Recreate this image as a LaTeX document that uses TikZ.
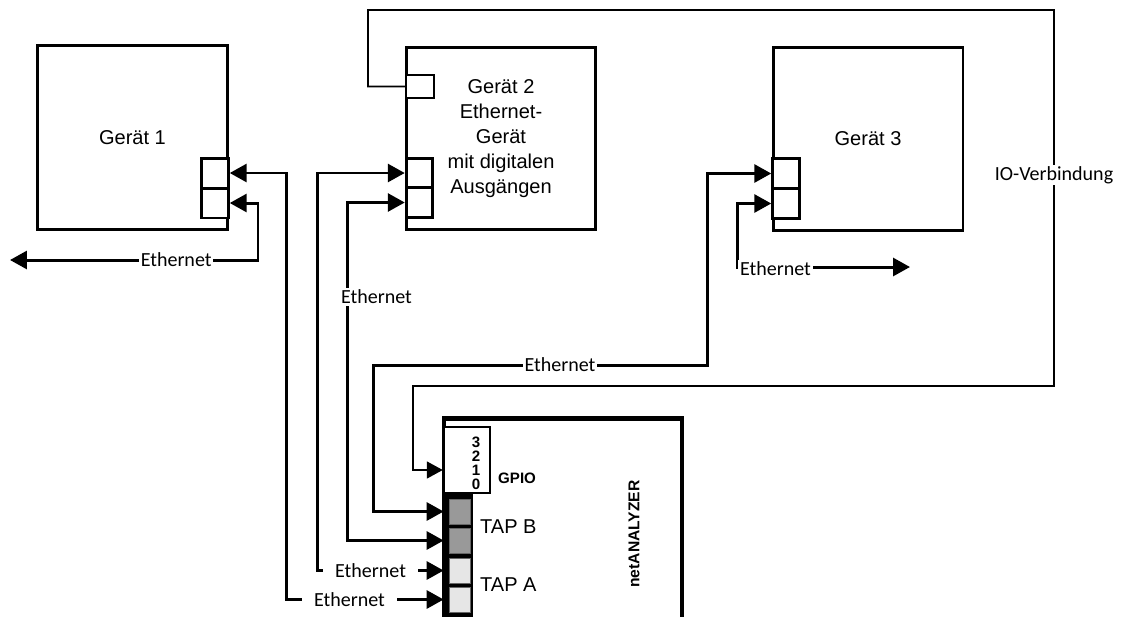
\documentclass[tikz,border=0pt]{standalone}
\usepackage{fontspec}
\setmainfont{Liberation Sans}
\newfontfamily\calfont{Carlito}
\usetikzlibrary{positioning,calc,arrows.meta}
\definecolor{tapbgray}{HTML}{999999}
\definecolor{tapagray}{HTML}{E6E6E6}
\tikzset{
  device/.style={rectangle,draw,line width=1.7pt,inner sep=0,align=center,
                 font=\fontsize{11.4}{14.2}\selectfont},
  port/.style={rectangle,draw,line width=1.7pt,fill=white,inner sep=0,
               minimum width=5.3mm,minimum height=6mm},
  analyzer/.style={rectangle,draw,line width=2.8pt,inner sep=0},
  tapport/.style={rectangle,draw=black!60,line width=0.5pt,inner sep=0,
                  minimum width=4.2mm,minimum height=5mm},
  eth/.style={line width=1.7pt,
              {Triangle[length=3.4mm,width=3.6mm]}-{Triangle[length=3.4mm,width=3.6mm]}},
  iowire/.style={line width=0.9pt,-{Triangle[length=3.2mm,width=3.4mm]}},
  ethlab/.style={font=\calfont\fontsize{11.4}{13}\selectfont,fill=white,inner sep=1pt},
  taplab/.style={anchor=west,font=\fontsize{11.4}{13}\selectfont},
  boldlab/.style={font=\bfseries\fontsize{8.6}{8}\selectfont},
}
\begin{document}
\begin{tikzpicture}[x=0.02cm,y=-0.02cm]
  \useasboundingbox (0,0) rectangle (1125,616);
  % the three devices
  \node[device,minimum width=3.82cm,minimum height=3.7cm] (dev1) at (132.5,137.5) {Gerät 1};
  \node[device,minimum width=3.8cm,minimum height=3.66cm] (dev2) at (501,138.5)
    {Gerät 2\\Ethernet-\\Gerät\\mit digitalen\\Ausgängen};
  \node[device,minimum width=3.8cm,minimum height=3.68cm] (dev3) at (868,139) {Gerät 3};
  % their ethernet ports
  \node[port] (g1a) at (215,173) {}; \node[port] (g1b) at (215,203) {};
  \node[port] (g2a) at (419.5,173) {}; \node[port] (g2b) at (419.5,202.5) {};
  \node[port] (g3a) at (786,173.5) {}; \node[port] (g3b) at (786,203.5) {};
  % digital output of device 2
  \node[port,line width=1.2pt,minimum width=5.6mm,minimum height=4.6mm] (dio) at (420,86.5) {};

  % netANALYZER, cut off by the lower edge
  \node[analyzer,minimum width=4.76cm,minimum height=4.3cm] (nana) at (563,526) {};
  \node[rectangle,draw,line width=1.4pt,fill=white,inner sep=0,
        minimum width=9.2mm,minimum height=13.2mm] (gpio) at (467,460) {};
  \node[rectangle,fill=black,inner sep=0,minimum width=5.8mm,minimum height=2.8cm] (strip) at (458.5,563) {};
  \node[tapport,fill=tapbgray] (tapb1) at (459.5,511.5) {};
  \node[tapport,fill=tapbgray] (tapb2) at (459.5,540.5) {};
  \node[tapport,fill=tapagray] (tapa1) at (459.5,570.5) {};
  \node[tapport,fill=tapagray] (tapa2) at (459.5,599.5) {};
  \node[boldlab,align=center] (bits) at (476,463) {3\\2\\1\\0};
  \node[boldlab,anchor=west] (gpiolab) at (492,478) {GPIO};
  \node[taplab] (tapblab) at (474,527) {TAP B};
  \node[taplab] (tapalab) at (474,585) {TAP A};
  \node[boldlab,font=\bfseries\fontsize{8.9}{10}\selectfont,rotate=90] (nalab) at (634,534) {netANALYZER};

  % ethernet cables
  \coordinate (out1) at (10,260);
  \coordinate (out3) at (910,267);
  \draw[eth] (out1) -- node[ethlab,pos=0.67] {Ethernet} ++(248,0) |- (g1b.east);
  \draw[eth] (strip.west |- tapa2) -- node[ethlab,pos=0.6,inner xsep=7pt] {Ethernet} ++(-157,0) |- (g1a.east);
  \draw[eth] (strip.west |- tapa1) -- node[ethlab,pos=0.58,inner xsep=7pt] {Ethernet} ++(-126,0) |- (g2a.west);
  \draw[eth] (strip.west |- tapb2) -- ++(-96,0) |- (g2b.west);
  \node[ethlab,anchor=west] (e4) at (339,297) {Ethernet};
  \draw[eth] (strip.west |- tapb1) -- ++(-70,0) |- (707,365) |- (g3a.west);
  \node[ethlab] (e5) at (560,365) {Ethernet};
  \draw[eth] (g3b.west) -| (737,267) -- (out3);
  \node[ethlab,anchor=west] (e6) at (738,269) {Ethernet};

  % IO connection to the GPIO input
  \draw[iowire] (dio.west) -| (368,10) -| (1054,386) -| (413,470) -- ([yshift=-2mm]gpio.west);
  \node[ethlab] (iolab) at (1054,175) {IO-Verbindung};
\end{tikzpicture}
\end{document}
